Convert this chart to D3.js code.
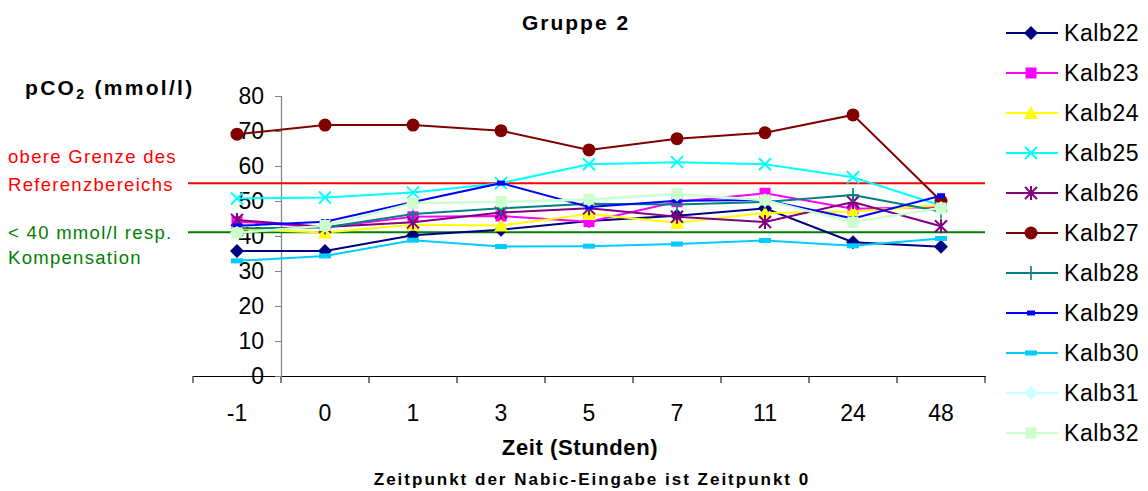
<!DOCTYPE html>
<html>
<head>
<meta charset="utf-8">
<script src="https://cdn.jsdelivr.net/npm/d3@7"></script>
<style>
  body { margin: 0; background: #fff; }
  svg { font-family: "Liberation Sans", Arial, sans-serif; }
</style>
</head>
<body>
<div id="chart"></div>
<script>
const width = 1148;
const height = 491;

// data
const zeiten = ['-1', '0', '1', '3', '5', '7', '11', '24', '48'];
const yTicks = [0, 10, 20, 30, 40, 50, 60, 70, 80];

const kalb22 = [35.7, 35.7, 40.2, 41.8, 44.3, 45.8, 47.9, 38.2, 36.9];
const kalb23 = [44.1, 42.5, 45.5, 45.7, 44.1, 49.8, 52.2, 47.8, 48.3];
const kalb24 = [42.0, 41.0, 43.2, 43.0, 46.3, 43.8, 46.6, 47.0, 48.8];
const kalb25 = [50.7, 51.0, 52.4, 55.1, 60.5, 61.1, 60.5, 56.8, 48.7];
const kalb26 = [44.6, 42.6, 43.9, 46.7, 47.9, 45.5, 44.0, 49.7, 42.8];
const kalb27 = [69.1, 71.7, 71.7, 70.1, 64.6, 67.8, 69.5, 74.6, 50.0];
const kalb28 = [42.2, 42.4, 46.3, 47.9, 49.2, 49.0, 49.7, 51.7, 47.0];
const kalb29 = [42.9, 44.1, 49.7, 55.1, 48.3, 50.1, 50.3, 45.0, 51.5];
const kalb30 = [32.9, 34.3, 38.8, 37.0, 37.1, 37.7, 38.7, 37.2, 39.3];
const kalb31 = [40.9, 42.9, 49.3, 49.7, 50.3, 51.8, 50.2, 43.9, 48.0];
const kalb32 = [40.9, 43.0, 49.4, 49.8, 50.5, 52.1, 50.3, 44.0, 48.0];

const serienNamen = ['Kalb22', 'Kalb23', 'Kalb24', 'Kalb25', 'Kalb26', 'Kalb27',
                     'Kalb28', 'Kalb29', 'Kalb30', 'Kalb31', 'Kalb32'];
const serienWerte = [kalb22, kalb23, kalb24, kalb25, kalb26, kalb27,
                     kalb28, kalb29, kalb30, kalb31, kalb32];

// reference lines
const obereGrenze = 55.1;
const kompensation = 41.1;

const farben = ['#000080', '#FF00FF', '#FFFF00', '#00FFFF', '#800080', '#800000',
                '#008080', '#0000FF', '#00CCFF', '#CCFFFF', '#CCFFCC'];
const marker = ['diamond', 'square', 'triangle', 'x', 'star', 'circle',
                'plus', 'dash', 'wdash', 'diamond', 'square'];

const series = serienNamen.map((name, i) => ({
  name, color: farben[i], marker: marker[i],
  values: serienWerte[i].map((v, j) => ({ zeit: zeiten[j], value: v }))
}));

const svg = d3.select('#chart').append('svg')
  .attr('width', width).attr('height', height);

const xScale = d3.scaleBand().domain(zeiten).range([193, 985]).padding(0);
const yScale = d3.scaleLinear().domain([0, 80]).range([376, 96]);
const xc = d => xScale(d) + xScale.bandwidth() / 2;

// x axis
const xAxis = svg.append('g')
  .attr('transform', `translate(0,${yScale(0)})`)
  .call(d3.axisBottom(xScale).tickSize(0).tickPadding(0).tickFormat(''));
xAxis.select('.domain').attr('stroke', '#000').attr('stroke-width', 1.2);
xAxis.selectAll('.tick').remove();
// category boundary ticks
const grenzen = zeiten.map(z => xScale(z)).concat([xScale.range()[1]]);
svg.append('g').selectAll('line').data(grenzen).join('line')
  .attr('x1', d => d).attr('x2', d => d)
  .attr('y1', yScale(0)).attr('y2', yScale(0) + 7)
  .attr('stroke', '#000').attr('stroke-width', 1);
svg.append('g').selectAll('text').data(zeiten).join('text')
  .attr('x', d => xc(d)).attr('y', 421)
  .attr('text-anchor', 'middle')
  .attr('font-size', 23).text(d => d);

// y axis sits at the boundary between "-1" and "0"
const yAxisX = xScale('0');
const yAxis = svg.append('g')
  .attr('transform', `translate(${yAxisX},0)`)
  .call(d3.axisLeft(yScale).tickValues(yTicks).tickSize(6).tickPadding(5));
yAxis.select('.domain').attr('stroke', '#808080').attr('stroke-width', 1.2);
yAxis.selectAll('.tick line').attr('stroke', '#808080');
yAxis.selectAll('.tick text')
  .attr('font-size', 23).attr('fill', '#000')
  .attr('font-family', '"Liberation Sans", Arial, sans-serif')
  .attr('x', -17);

// reference lines
svg.append('line')
  .attr('x1', 188).attr('x2', 985)
  .attr('y1', yScale(obereGrenze)).attr('y2', yScale(obereGrenze))
  .attr('stroke', '#FF0000').attr('stroke-width', 2);
svg.append('line')
  .attr('x1', 188).attr('x2', 985)
  .attr('y1', yScale(kompensation)).attr('y2', yScale(kompensation))
  .attr('stroke', '#008000').attr('stroke-width', 2);

// marker drawing
function drawMarker(g, type, color, x, y, scale = 1) {
  const s = scale;
  if (type === 'diamond') {
    g.append('path').attr('d', `M${x},${y - 7 * s}L${x + 7 * s},${y}L${x},${y + 7 * s}L${x - 7 * s},${y}Z`)
      .attr('fill', color);
  } else if (type === 'square') {
    g.append('rect').attr('x', x - 5.5 * s).attr('y', y - 5.5 * s)
      .attr('width', 11 * s).attr('height', 11 * s).attr('fill', color);
  } else if (type === 'triangle') {
    g.append('path').attr('d', `M${x},${y - 7 * s}L${x + 7 * s},${y + 6 * s}L${x - 7 * s},${y + 6 * s}Z`)
      .attr('fill', color);
  } else if (type === 'x') {
    g.append('path').attr('d', `M${x - 6},${y - 6}L${x + 6},${y + 6}M${x - 6},${y + 6}L${x + 6},${y - 6}`)
      .attr('stroke', color).attr('stroke-width', 2);
  } else if (type === 'star') {
    g.append('path').attr('d', `M${x - 6},${y - 6}L${x + 6},${y + 6}M${x - 6},${y + 6}L${x + 6},${y - 6}M${x},${y - 7}L${x},${y + 7}`)
      .attr('stroke', color).attr('stroke-width', 2);
  } else if (type === 'circle') {
    g.append('circle').attr('cx', x).attr('cy', y).attr('r', 6.5 * s).attr('fill', color);
  } else if (type === 'plus') {
    g.append('path').attr('d', `M${x - 6},${y}L${x + 6},${y}M${x},${y - 7}L${x},${y + 7}`)
      .attr('stroke', color).attr('stroke-width', 1.6);
  } else if (type === 'dash') {
    g.append('rect').attr('x', x - 4).attr('y', y - 2.5)
      .attr('width', 8).attr('height', 5).attr('fill', color);
  } else if (type === 'wdash') {
    g.append('rect').attr('x', x - 6).attr('y', y - 2.5)
      .attr('width', 12).attr('height', 5).attr('fill', color);
  }
}

const line = d3.line().x(d => xc(d.zeit)).y(d => yScale(d.value));

const plot = svg.append('g');
series.forEach(s => {
  const g = plot.append('g');
  g.append('path').datum(s.values)
    .attr('d', line)
    .attr('fill', 'none')
    .attr('stroke', s.color)
    .attr('stroke-width', 2);
  s.values.forEach(d => drawMarker(g, s.marker, s.color, xc(d.zeit), yScale(d.value)));
});

// legend
const legend = svg.append('g');
series.forEach((s, i) => {
  const y = 33 + i * 40;
  const g = legend.append('g');
  g.append('line').attr('x1', 1006).attr('x2', 1058).attr('y1', y).attr('y2', y)
    .attr('stroke', s.color).attr('stroke-width', 2);
  drawMarker(g, s.marker, s.color, 1031, y);
  g.append('text').attr('x', 1064).attr('y', y + 8)
    .attr('font-size', 23).attr('letter-spacing', 0.6).text(s.name);
});

// titles
svg.append('text').attr('x', 576).attr('y', 30)
  .attr('text-anchor', 'middle').attr('font-weight', 'bold').attr('font-size', 21)
  .attr('letter-spacing', 2).text('Gruppe 2');

const yLab = svg.append('text').attr('x', 25).attr('y', 95)
  .attr('font-weight', 'bold').attr('font-size', 21).attr('letter-spacing', 2.3);
yLab.append('tspan').text('pCO');
yLab.append('tspan').attr('font-size', 14).attr('dy', 4).text('2');
yLab.append('tspan').attr('dy', -4).text(' (mmol/l)');

svg.append('text').attr('x', 580).attr('y', 455)
  .attr('text-anchor', 'middle').attr('font-weight', 'bold').attr('font-size', 22)
  .attr('letter-spacing', 0.6).text('Zeit (Stunden)');
svg.append('text').attr('x', 592).attr('y', 485)
  .attr('text-anchor', 'middle').attr('font-weight', 'bold').attr('font-size', 17)
  .attr('letter-spacing', 2).text('Zeitpunkt der Nabic-Eingabe ist Zeitpunkt 0');

// annotations
const anno = [
  { text: 'obere Grenze des', y: 163, color: '#FF0000' },
  { text: 'Referenzbereichs', y: 191, color: '#FF0000' },
  { text: '< 40 mmol/l resp.', y: 239, color: '#008000' },
  { text: 'Kompensation', y: 264, color: '#008000' }
];
svg.append('g').selectAll('text').data(anno).join('text')
  .attr('x', 8).attr('y', d => d.y)
  .attr('fill', d => d.color).attr('font-size', 18.5)
  .attr('letter-spacing', 1.3)
  .text(d => d.text);
</script>
</body>
</html>
